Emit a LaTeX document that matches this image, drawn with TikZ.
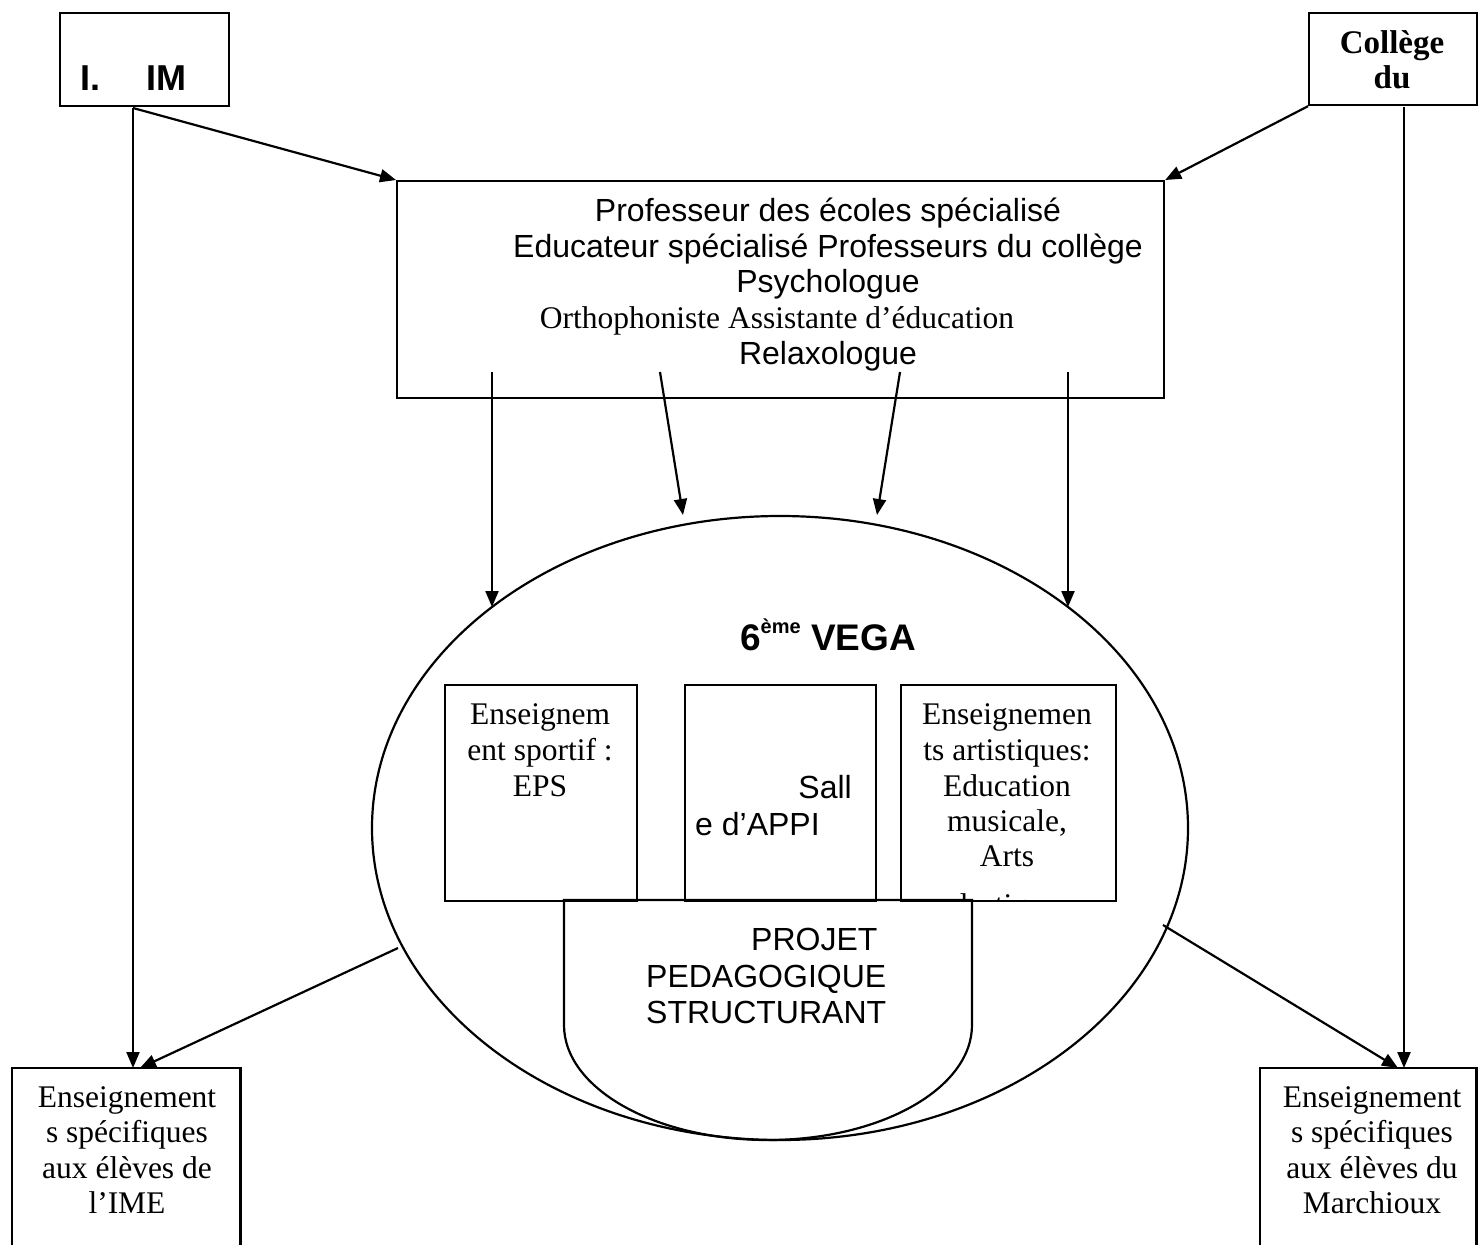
\documentclass[tikz,border=0pt]{standalone}
\usepackage{fontspec}
\setmainfont{Liberation Serif}
\newfontfamily\fA{Liberation Sans}
\newfontfamily\fT{Liberation Serif}
\usetikzlibrary{arrows.meta,shapes.geometric}
\begin{document}
\begin{tikzpicture}[x=1pt,y=-1pt,
  lw/.style={line width=2.2pt},
  box/.style={draw, lw, anchor=north west, inner sep=0pt},
  openbox/.style={draw=none, anchor=north west, inner sep=0pt},
  arr/.style={lw, -{Triangle[length=16pt,width=13pt]}},
  ta/.style={font=\fA\fontsize{32}{36}\selectfont, inner sep=0pt, anchor=base},
  tt/.style={font=\fT\fontsize{31.5}{36}\selectfont, inner sep=0pt, anchor=base},
]
\useasboundingbox (0,0) rectangle (1484,1245);

% boxes
\node[box, minimum width=169pt, minimum height=93pt] (ime) at (59,12) {};
\node[box, minimum width=168pt, minimum height=92pt] (col) at (1308,12) {};
\node[box, minimum width=767pt, minimum height=217pt] (staff) at (396,180) {};
\node[draw, lw, ellipse, minimum width=816pt, minimum height=624pt, inner sep=0pt] (vega) at (780,828) {};
\node[box, minimum width=192pt, minimum height=216pt] (bA) at (444,684) {};
\node[box, minimum width=191pt, minimum height=216pt] (bB) at (684,684) {};
\node[box, minimum width=215pt, minimum height=216pt] (bC) at (900,684) {};
\node[openbox, minimum width=228pt, minimum height=190pt] (ensL) at (12,1068) {};
\node[openbox, minimum width=216pt, minimum height=190pt] (ensR) at (1260,1068) {};
\draw[lw] (ensL.south west) -- (ensL.north west) -- (ensL.north east) -- (ensL.south east);
\draw[lw] (ensR.south west) -- (ensR.north west) -- (ensR.north east) -- (ensR.south east);

% projet shape
\draw[lw] (564,900) -- (564,1025) arc[start angle=180, end angle=360, x radius=204pt, y radius=115pt] -- (972,900) -- cycle;

% texts
\node[font=\fA\bfseries\fontsize{36}{40}\selectfont, anchor=base west, inner sep=0pt] (imt1) at (80,90) {I.};
\node[font=\fA\bfseries\fontsize{36}{40}\selectfont, anchor=base west, inner sep=0pt] (imt2) at (146,90) {IM};
\node[font=\fT\bfseries\fontsize{33}{36}\selectfont, anchor=base, inner sep=0pt] (colt1) at (1392,53) {Collège};
\node[font=\fT\bfseries\fontsize{33}{36}\selectfont, anchor=base, inner sep=0pt] (colt2) at (1392,88) {du};

\node[ta] (st1) at (828,221) {Professeur des écoles spécialisé};
\node[ta] (st2) at (828,257) {Educateur spécialisé Professeurs du collège};
\node[ta] (st3) at (828,292) {Psychologue};
\node[tt] (st4) at (777,328) {Orthophoniste Assistante d’éducation};
\node[ta] (st5) at (828,364) {Relaxologue};

\node[font=\fA\bfseries\fontsize{37}{40}\selectfont, anchor=base, inner sep=0pt] (vegat) at (828,650) {6\raisebox{17pt}{\fontsize{20}{20}\selectfont ème} VEGA};

\node[tt] (a1) at (540,724) {Enseignem};
\node[tt] (a2) at (540,760) {ent sportif :};
\node[tt] (a3) at (540,796) {EPS};

\node[ta, anchor=base east] (b1) at (852,798) {Sall};
\node[ta, anchor=base west] (b2) at (695,835) {e d’APPI};

\begin{scope}
\clip (901,685) rectangle (1114,899);
\node[tt] (c1) at (1007,724) {Enseignemen};
\node[tt] (c2) at (1007,760) {ts artistiques:};
\node[tt] (c3) at (1007,796) {Education};
\node[tt] (c4) at (1007,831) {musicale,};
\node[tt] (c5) at (1007,866) {Arts};
\node[tt] (c6) at (1007,915) {plastiques};
\end{scope}

\node[ta, anchor=base west] (p1) at (751,950) {PROJET};
\node[ta, anchor=base west] (p2) at (646,987) {PEDAGOGIQUE};
\node[ta, anchor=base west] (p3) at (646,1023) {STRUCTURANT};

\node[tt] (l1) at (127,1107) {Enseignement};
\node[tt] (l2) at (127,1142) {s spécifiques};
\node[tt] (l3) at (127,1178) {aux élèves de};
\node[tt] (l4) at (127,1213) {l’IME};

\node[tt] (r1) at (1372,1107) {Enseignement};
\node[tt] (r2) at (1372,1142) {s spécifiques};
\node[tt] (r3) at (1372,1178) {aux élèves du};
\node[tt] (r4) at (1372,1213) {Marchioux};

% connectors
\coordinate (imeS) at (133,108);
\coordinate (colS) at (1404,107);
\draw[arr] (imeS) -- (staff.north west);
\draw[arr] (imeS) -- (imeS |- ensL.north);
\draw[arr] (col.south west) -- (staff.north east);
\draw[arr] (colS) -- (colS |- ensR.north);

\coordinate (s1) at (492,372); \coordinate (e1) at (492,607);
\coordinate (s2) at (660,372); \coordinate (e2) at (683,515);
\coordinate (s3) at (900,372); \coordinate (e3) at (877,515);
\coordinate (s4) at (1068,372); \coordinate (e4) at (1068,607);
\draw[arr] (s1) -- (e1);
\draw[arr] (s2) -- (e2);
\draw[arr] (s3) -- (e3);
\draw[arr] (s4) -- (e4);

\coordinate (vL) at (398,948); \coordinate (tL) at (140,1068);
\coordinate (vR) at (1163,925); \coordinate (tR) at (1398,1068);
\draw[arr] (vL) -- (tL);
\draw[arr] (vR) -- (tR);
\end{tikzpicture}
\end{document}
